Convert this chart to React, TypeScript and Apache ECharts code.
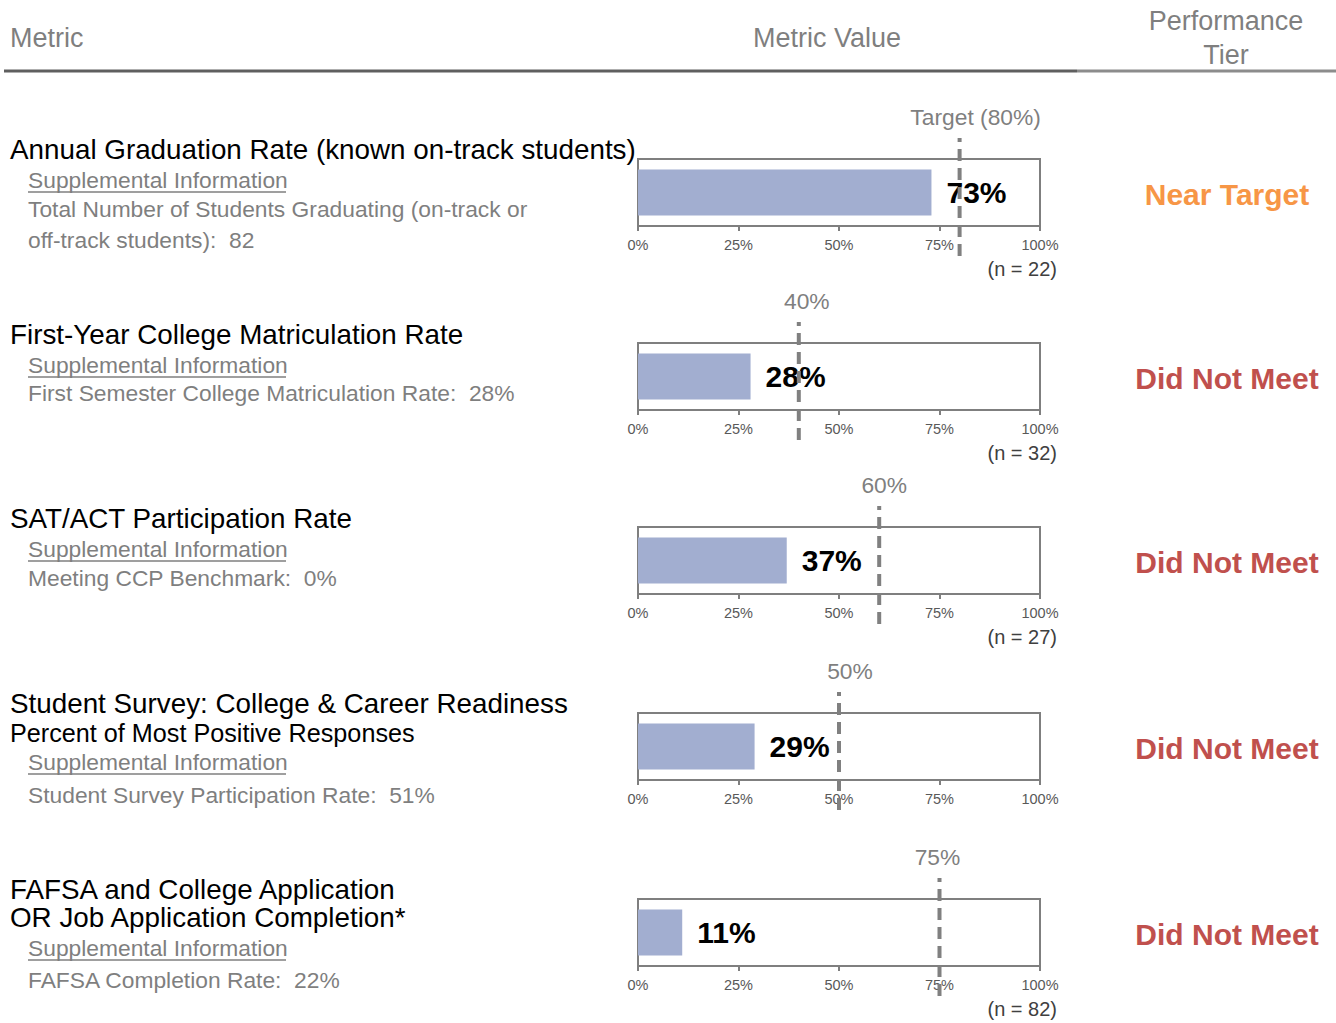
import React, { useEffect, useRef } from "react";
import * as echarts from "echarts";

const titles: string[][] = [
  ["Annual Graduation Rate (known on-track students)"],
  ["First-Year College Matriculation Rate"],
  ["SAT/ACT Participation Rate"],
  ["Student Survey: College & Career Readiness", "Percent of Most Positive Responses"],
  ["FAFSA and College Application", "OR Job Application Completion*"],
];
const supplementalLabel = "Supplemental Information";
const supplementalLines: string[][] = [
  ["Total Number of Students Graduating (on-track or", "off-track students):  82"],
  ["First Semester College Matriculation Rate:  28%"],
  ["Meeting CCP Benchmark:  0%"],
  ["Student Survey Participation Rate:  51%"],
  ["FAFSA Completion Rate:  22%"],
];
const values = [73, 28, 37, 29, 11];
const targets = [80, 40, 60, 50, 75];
const targetLabels = ["Target (80%)", "40%", "60%", "50%", "75%"];
const nCounts = ["(n = 22)", "(n = 32)", "(n = 27)", "", "(n = 82)"];
const tiers = ["Near Target", "Did Not Meet", "Did Not Meet", "Did Not Meet", "Did Not Meet"];
const headers = ["Metric", "Metric Value", "Performance", "Tier"];

// layout (pixels)
const boxTops = [159, 343, 527, 713, 899];
const titleYs = [[149], [334], [518], [703, 733], [889, 917]];
const titleSizes = [[27.8], [27.8], [27.8], [27.8, 25.2], [27.8, 27.8]];
const suppYs = [180, 365, 549, 762, 948];
const lineYs = [[209, 240], [393], [578], [795], [980]];
const targetLabelOffsets = [16, 8, 5, 11, -2];

const FONT = "'Liberation Sans', Arial, sans-serif";
const GRAY = "#7f7f7f";
const tierColor = (t: string) => (t === "Near Target" ? "#f79646" : "#c0504d");

export default function App() {
  const ref = useRef<HTMLDivElement>(null);
  useEffect(() => {
    if (!ref.current) return;
    const chart = echarts.init(ref.current, null, { renderer: "svg" });
    const plotLeft = 638;
    const plotW = 402;
    const boxH = 67;

    const grid: any[] = [];
    const xAxis: any[] = [];
    const yAxis: any[] = [];
    const series: any[] = [];
    const graphic: any[] = [];

    values.forEach((v, i) => {
      const top = boxTops[i];
      grid.push({
        left: plotLeft,
        width: plotW,
        top: top,
        height: boxH,
        show: true,
        borderColor: GRAY,
        borderWidth: 2,
        backgroundColor: "transparent",
      });
      const gi = grid.length - 1;
      xAxis.push({
        type: "value",
        gridIndex: gi,
        min: 0,
        max: 100,
        interval: 25,
        axisLine: { show: true, lineStyle: { color: GRAY, width: 2 } },
        axisTick: { show: true, length: 5, lineStyle: { color: GRAY, width: 2 } },
        splitLine: { show: false },
        axisLabel: {
          formatter: "{value}%",
          color: "#595959",
          fontSize: 14.5,
          fontFamily: FONT,
          margin: 11,
        },
      });
      yAxis.push({ type: "category", gridIndex: gi, data: ["v"], show: false });
      series.push({
        type: "bar",
        xAxisIndex: gi,
        yAxisIndex: gi,
        data: [v],
        barWidth: 46,
        itemStyle: { color: "#a2aed0" },
        label: {
          show: true,
          position: "right",
          distance: 15,
          formatter: "{c}%",
          fontSize: 30,
          fontWeight: "bold",
          color: "#000",
          fontFamily: FONT,
        },
        z: 2,
      });
      grid.push({ left: plotLeft, width: plotW, top: top - 21, height: 118, show: false });
      const ti = grid.length - 1;
      xAxis.push({ type: "value", gridIndex: ti, min: 0, max: 100, show: false });
      yAxis.push({ type: "value", gridIndex: ti, min: 0, max: 1, show: false });
      series.push({
        type: "line",
        xAxisIndex: ti,
        yAxisIndex: ti,
        data: [
          [targets[i], 0],
          [targets[i], 1],
        ],
        symbol: "none",
        lineStyle: { color: "#808080", width: 4, type: [12, 7] },
        z: 5,
        markPoint: {
          symbol: "circle",
          symbolSize: 0,
          data: [{ coord: [targets[i], 1], value: targetLabels[i] }],
          label: {
            show: true,
            position: "top",
            distance: 10,
            offset: [targetLabelOffsets[i], 0],
            formatter: targetLabels[i],
            color: GRAY,
            fontSize: 22.8,
            fontFamily: FONT,
          },
        },
      });

      titles[i].forEach((t, k) => {
        graphic.push({
          type: "text",
          x: 10,
          y: titleYs[i][k],
          style: {
            text: t,
            fill: "#000",
            fontSize: titleSizes[i][k],
            fontFamily: FONT,
            align: "left",
            verticalAlign: "middle",
          },
        });
      });
      graphic.push({
        type: "text",
        x: 28,
        y: suppYs[i],
        style: {
          text: supplementalLabel,
          fill: GRAY,
          fontSize: 22.8,
          fontFamily: FONT,
          align: "left",
          verticalAlign: "middle",
        },
      });
      graphic.push({
        type: "line",
        shape: { x1: 28, y1: suppYs[i] + 12, x2: 286, y2: suppYs[i] + 12 },
        style: { stroke: GRAY, lineWidth: 1.5 },
      });
      supplementalLines[i].forEach((t, k) => {
        graphic.push({
          type: "text",
          x: 28,
          y: lineYs[i][k],
          style: {
            text: t,
            fill: GRAY,
            fontSize: 22.8,
            fontFamily: FONT,
            align: "left",
            verticalAlign: "middle",
          },
        });
      });
      if (nCounts[i]) {
        graphic.push({
          type: "text",
          x: 1057,
          y: top + 110,
          style: {
            text: nCounts[i],
            fill: "#404040",
            fontSize: 20,
            fontFamily: FONT,
            align: "right",
            verticalAlign: "middle",
          },
        });
      }
      graphic.push({
        type: "text",
        x: 1227,
        y: top + 35,
        style: {
          text: tiers[i],
          fill: tierColor(tiers[i]),
          fontSize: 30,
          fontWeight: "bold",
          fontFamily: FONT,
          align: "center",
          verticalAlign: "middle",
        },
      });
    });

    graphic.push({
      type: "text",
      x: 10,
      y: 38,
      style: { text: headers[0], fill: GRAY, fontSize: 27, fontFamily: FONT, align: "left", verticalAlign: "middle" },
    });
    graphic.push({
      type: "text",
      x: 827,
      y: 38,
      style: { text: headers[1], fill: GRAY, fontSize: 27, fontFamily: FONT, align: "center", verticalAlign: "middle" },
    });
    graphic.push({
      type: "text",
      x: 1226,
      y: 21,
      style: { text: headers[2], fill: GRAY, fontSize: 27, fontFamily: FONT, align: "center", verticalAlign: "middle" },
    });
    graphic.push({
      type: "text",
      x: 1226,
      y: 55,
      style: { text: headers[3], fill: GRAY, fontSize: 27, fontFamily: FONT, align: "center", verticalAlign: "middle" },
    });
    graphic.push({
      type: "line",
      shape: { x1: 4, y1: 71, x2: 1077, y2: 71 },
      style: { stroke: "#5f5f5f", lineWidth: 3 },
    });
    graphic.push({
      type: "line",
      shape: { x1: 1077, y1: 71, x2: 1336, y2: 71 },
      style: { stroke: "#8c8c8c", lineWidth: 3 },
    });

    chart.setOption({
      animation: false,
      backgroundColor: "#ffffff",
      grid,
      xAxis,
      yAxis,
      series,
      graphic,
    });
    return () => chart.dispose();
  }, []);
  return (
    <div ref={ref} style={{ position: "fixed", left: 0, top: 0, width: 1336, height: 1023 }} />
  );
}
